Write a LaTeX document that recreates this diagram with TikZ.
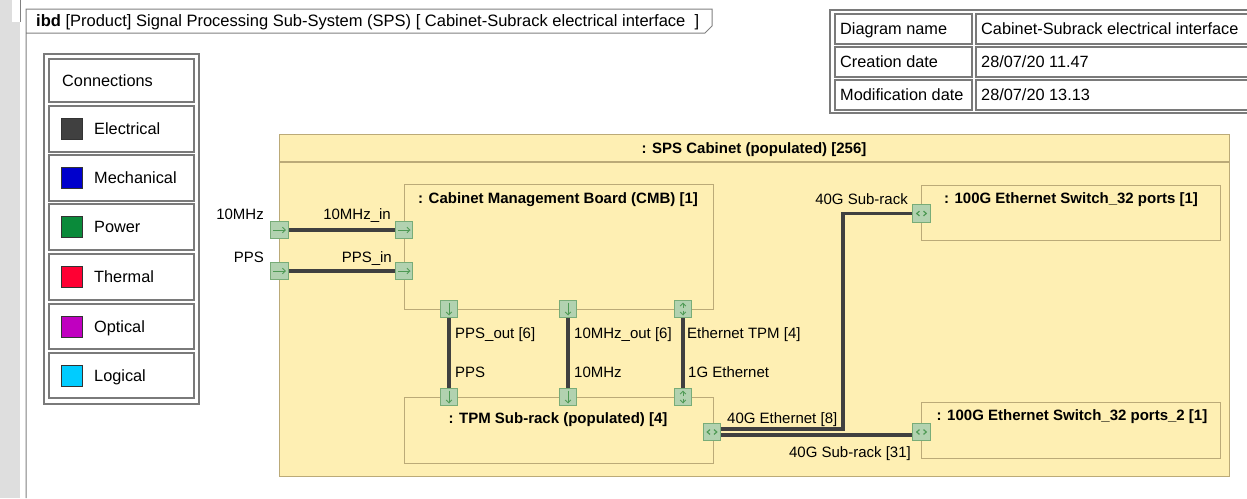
\documentclass[tikz,border=0pt]{standalone}
\usepackage{fontspec}
\setmainfont{Liberation Sans}
\usetikzlibrary{arrows.meta}

\definecolor{cabfill}{HTML}{FEEFB3}
\definecolor{cabline}{HTML}{BBAA78}
\definecolor{portfill}{HTML}{B2D2B0}
\definecolor{portline}{HTML}{78AC78}
\definecolor{portarrow}{HTML}{4F9A55}
\definecolor{wire}{HTML}{404040}
\definecolor{framegray}{HTML}{808080}
\definecolor{cellgray}{HTML}{7A7A7A}
\definecolor{sidegray}{HTML}{DEDEDE}
\definecolor{elec}{HTML}{404040}
\definecolor{mech}{HTML}{0000CC}
\definecolor{powr}{HTML}{0A8A3A}
\definecolor{therm}{HTML}{FF0033}
\definecolor{optic}{HTML}{C000C0}
\definecolor{logic}{HTML}{00CCFF}

\begin{document}
\begin{tikzpicture}[x=1pt,y=-1pt,
  txt/.style={font=\fontsize{16.3}{19}\selectfont, inner sep=0pt},
  lbl/.style={font=\fontsize{15}{18}\selectfont, inner sep=0pt},
  ttl/.style={font=\fontsize{15}{18}\selectfont\bfseries, inner sep=0pt, anchor=base},
  cell/.style={draw=cellgray, line width=1.2pt, fill=white},
  swatch/.style={draw=black!80, line width=0.8pt, minimum size=21pt, inner sep=0pt},
  part/.style={draw=cabline, line width=1.3pt, fill=cabfill, inner sep=0pt, anchor=north west},
  conn/.style={draw=wire, line width=3.2pt},
  port/.style={draw=portline, fill=portfill, line width=1pt, minimum size=17.5pt, inner sep=0pt},
  tipbarb/.style={-{Straight Barb[length=2.8pt,width=5.5pt]}},
  portin/.style={port, path picture={
      \draw[portarrow, line width=1pt, tipbarb]
        ([xshift=-6.5pt]path picture bounding box.center) -- ([xshift=6.5pt]path picture bounding box.center);}},
  portdown/.style={port, path picture={
      \draw[portarrow, line width=1pt, tipbarb]
        ([yshift=6.5pt]path picture bounding box.center) -- ([yshift=-6.5pt]path picture bounding box.center);}},
  portud/.style={port, path picture={
      \draw[portarrow, line width=1pt, tipbarb]
        ([yshift=1.5pt]path picture bounding box.center) -- ([yshift=6.5pt]path picture bounding box.center);
      \draw[portarrow, line width=1pt, tipbarb]
        ([yshift=-1.5pt]path picture bounding box.center) -- ([yshift=-6.5pt]path picture bounding box.center);}},
  portlr/.style={port, path picture={
      \draw[portarrow, line width=1.2pt]
        ([xshift=-2pt,yshift=2.4pt]path picture bounding box.center) -- ([xshift=-4.8pt]path picture bounding box.center)
        -- ([xshift=-2pt,yshift=-2.4pt]path picture bounding box.center);
      \draw[portarrow, line width=1.2pt]
        ([xshift=2pt,yshift=2.4pt]path picture bounding box.center) -- ([xshift=4.8pt]path picture bounding box.center)
        -- ([xshift=2pt,yshift=-2.4pt]path picture bounding box.center);}}
]
\useasboundingbox (0,0) rectangle (1247,498);

% window edge on the left
\fill[sidegray] (0,0) rectangle (20,498);
\fill[white] (12,0) rectangle (20,22);
\draw[framegray, line width=0.8pt] (20,0) -- (20,22);

% diagram frame with its name tab
\draw[framegray, line width=1pt] (26,498) -- (26,9) -- (712,9) -- (712,26) -- (705,33) -- (26,33);
\node[txt, anchor=base west, font=\fontsize{16.5}{19}\selectfont] (frametitle) at (36,26.5)
  {\textbf{ibd} [Product] Signal Processing Sub-System (SPS) [ Cabinet-Subrack electrical interface \ ]};

% information table
\draw[cell] (830,10) rectangle (1262,113);
\foreach \ya/\yb/\k/\v/\n in {14/44/{Diagram name}/{Cabinet-Subrack electrical interface}/a,
                               47/77/{Creation date}/{28/07/20 11.47}/b,
                               80/110/{Modification date}/{28/07/20 13.13}/c}{
  \draw[cell] (835,\ya) rectangle (972,\yb);
  \draw[cell] (976,\ya) rectangle (1258,\yb);
  \node[txt, anchor=base west] (key\n) at (840,{(\ya+\yb)/2+5.8}) {\k};
  \node[txt, anchor=base west] (val\n) at (981,{(\ya+\yb)/2+5.8}) {\v};
}

% legend of connection kinds
\draw[cell] (44,54) rectangle (199,404);
\draw[cell] (49,59) rectangle (194,102);
\node[txt, anchor=base west] (legtitle) at (62,86.5) {Connections};
\foreach \ya/\yb/\c/\t/\n in {106/152/elec/Electrical/e, 155/201/mech/Mechanical/m,
                              204/250/powr/Power/p, 254/300/therm/Thermal/t,
                              304/349/optic/Optical/o, 353/398/logic/Logical/l}{
  \draw[cell] (49,\ya) rectangle (194,\yb);
  \node[swatch, fill=\c] (sw\n) at (71.5,{(\ya+\yb)/2}) {};
  \node[txt, anchor=base west] (lg\n) at (94,{(\ya+\yb)/2+5.8}) {\t};
}

% SPS cabinet and its parts
\node[part, minimum width=950pt, minimum height=342pt] (cab) at (279,134) {};
\draw[cabline, line width=1.3pt] (cab.west |- 0,162) -- (cab.east |- 0,162);
\node[ttl] (cabt) at (754,153.5) {: SPS Cabinet (populated) [256]};

\node[part, minimum width=309pt, minimum height=125pt] (cmb) at (404,184) {};
\node[ttl] (cmbt) at (558,203.5) {: Cabinet Management Board (CMB) [1]};

\node[part, minimum width=309pt, minimum height=66pt] (tpm) at (404,397) {};
\node[ttl] (tpmt) at (558,423.5) {: TPM Sub-rack (populated) [4]};

\node[part, minimum width=299pt, minimum height=55pt] (swa) at (921,185) {};
\node[ttl] (swat) at (1071,203.5) {: 100G Ethernet Switch\_32 ports [1]};

\node[part, minimum width=299pt, minimum height=56pt] (swb) at (921,402) {};
\node[ttl] (swbt) at (1072,420.5) {: 100G Ethernet Switch\_32 ports\_2 [1]};

% ports
\node[portin] (c10) at (279.5,230) {};
\node[portin] (cpps) at (279.5,271) {};
\node[portin] (m10) at (404,230) {};
\node[portin] (mpps) at (404,271) {};
\node[portdown] (mppso) at (449,309) {};
\node[portdown] (m10o) at (568,309) {};
\node[portud] (meth) at (683,309) {};
\node[portdown] (tpps) at (449,397) {};
\node[portdown] (t10) at (568,397) {};
\node[portud] (teth) at (683,397) {};
\node[portlr] (t40) at (712,432) {};
\node[portlr] (sa) at (921.5,213.5) {};
\node[portlr] (sb) at (921.5,432) {};
\coordinate (riser) at (843,213.5);

% connectors
\draw[conn] (c10) -- (m10);
\draw[conn] (cpps) -- (mpps);
\draw[conn] (mppso) -- (tpps);
\draw[conn] (m10o) -- (t10);
\draw[conn] (meth) -- (teth);
\draw[conn] ([yshift=3pt]t40.east) -| (riser) -- (sa.west);
\draw[conn] ([yshift=-3pt]t40.east) -- ([yshift=-3pt]sb.west);

% redraw ports above connector ends
\foreach \p/\s in {c10/portin, cpps/portin, m10/portin, mpps/portin, mppso/portdown, m10o/portdown,
                   meth/portud, tpps/portdown, t10/portdown, teth/portud, t40/portlr, sa/portlr, sb/portlr}{
  \node[\s] at (\p) {};
}

% connector labels
\node[lbl, anchor=base east] (l1) at (264,219.5) {10MHz};
\node[lbl, anchor=base east] (l2) at (391,219.5) {10MHz\_in};
\node[lbl, anchor=base east] (l3) at (264,262.5) {PPS};
\node[lbl, anchor=base east] (l4) at (392,262.5) {PPS\_in};
\node[lbl, anchor=base west] (l5) at (455,338.5) {PPS\_out [6]};
\node[lbl, anchor=base west] (l6) at (455,377.5) {PPS};
\node[lbl, anchor=base west] (l7) at (574,338.5) {10MHz\_out [6]};
\node[lbl, anchor=base west] (l8) at (574,377.5) {10MHz};
\node[lbl, anchor=base west] (l9) at (687,338.5) {Ethernet TPM [4]};
\node[lbl, anchor=base west] (l10) at (688,377.5) {1G Ethernet};
\node[lbl, anchor=base east] (l11) at (908,204.5) {40G Sub-rack};
\node[lbl, anchor=base west] (l12) at (727,423.5) {40G Ethernet [8]};
\node[lbl, anchor=base east] (l13) at (911,457.5) {40G Sub-rack [31]};
\end{tikzpicture}
\end{document}
